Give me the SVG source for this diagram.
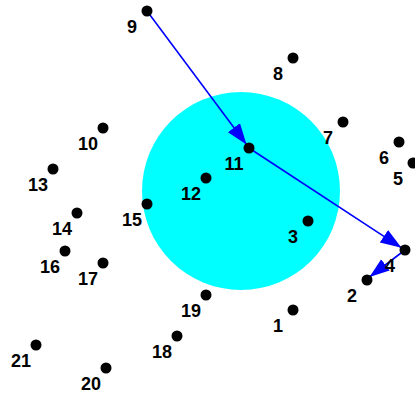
<svg xmlns="http://www.w3.org/2000/svg" width="415" height="394" viewBox="0 0 415 394">
<style>
.dot{fill:#000}
.lbl{font-family:"Liberation Sans",Arial,sans-serif;font-weight:bold;font-size:18px;fill:#000;text-anchor:middle}
.edge{stroke:#0000ff;stroke-width:1.6;fill:none}
</style>
<defs>
<marker id="arr" markerUnits="userSpaceOnUse" markerWidth="23" markerHeight="17" refX="21" refY="7.5" orient="auto">
<path d="M0,0 L21,7.5 L0,15 z" fill="#0000ff"/>
</marker>
<marker id="arrs" markerUnits="userSpaceOnUse" markerWidth="22" markerHeight="16" refX="20" refY="7" orient="auto">
<path d="M0,0 L20,7 L0,14 z" fill="#0000ff"/>
</marker>
</defs>
<rect width="415" height="394" fill="#fff"/>
<circle id="region" cx="241" cy="191" r="99" fill="#00ffff"/>
<g id="connectors">
<line class="edge" x1="147" y1="11" x2="246.5" y2="144.5" marker-end="url(#arr)"/>
<line class="edge" x1="249" y1="148" x2="401.5" y2="247.8" marker-end="url(#arr)"/>
<line class="edge" x1="405" y1="250" x2="369.5" y2="277" marker-end="url(#arrs)"/>
</g>
<g id="n1"><circle class="dot" cx="293" cy="310" r="5.5"/><text class="lbl" x="278" y="332">1</text></g>
<g id="n2"><circle class="dot" cx="367" cy="280" r="5.5"/><text class="lbl" x="352" y="302">2</text></g>
<g id="n3"><circle class="dot" cx="308" cy="221" r="5.5"/><text class="lbl" x="293" y="243">3</text></g>
<g id="n4"><circle class="dot" cx="405" cy="250" r="5.5"/><text class="lbl" x="390" y="272">4</text></g>
<g id="n5"><circle class="dot" cx="413" cy="163" r="5.5"/><text class="lbl" x="398" y="185">5</text></g>
<g id="n6"><circle class="dot" cx="399" cy="142" r="5.5"/><text class="lbl" x="384" y="164">6</text></g>
<g id="n7"><circle class="dot" cx="343" cy="122" r="5.5"/><text class="lbl" x="328" y="144">7</text></g>
<g id="n8"><circle class="dot" cx="293" cy="58" r="5.5"/><text class="lbl" x="278" y="80">8</text></g>
<g id="n9"><circle class="dot" cx="147" cy="11" r="5.5"/><text class="lbl" x="132" y="33">9</text></g>
<g id="n10"><circle class="dot" cx="103" cy="128" r="5.5"/><text class="lbl" x="88" y="150">10</text></g>
<g id="n11"><circle class="dot" cx="249" cy="148" r="5.5"/><text class="lbl" x="234" y="170">11</text></g>
<g id="n12"><circle class="dot" cx="206" cy="178" r="5.5"/><text class="lbl" x="191" y="200">12</text></g>
<g id="n13"><circle class="dot" cx="53" cy="169" r="5.5"/><text class="lbl" x="38" y="191">13</text></g>
<g id="n14"><circle class="dot" cx="77" cy="213" r="5.5"/><text class="lbl" x="62" y="235">14</text></g>
<g id="n15"><circle class="dot" cx="147" cy="204" r="5.5"/><text class="lbl" x="132" y="226">15</text></g>
<g id="n16"><circle class="dot" cx="65" cy="251" r="5.5"/><text class="lbl" x="50" y="273">16</text></g>
<g id="n17"><circle class="dot" cx="103" cy="263" r="5.5"/><text class="lbl" x="88" y="285">17</text></g>
<g id="n18"><circle class="dot" cx="177" cy="336" r="5.5"/><text class="lbl" x="162" y="358">18</text></g>
<g id="n19"><circle class="dot" cx="206" cy="295" r="5.5"/><text class="lbl" x="191" y="317">19</text></g>
<g id="n20"><circle class="dot" cx="106" cy="368" r="5.5"/><text class="lbl" x="91" y="390">20</text></g>
<g id="n21"><circle class="dot" cx="36" cy="345" r="5.5"/><text class="lbl" x="21" y="367">21</text></g>
</svg>
